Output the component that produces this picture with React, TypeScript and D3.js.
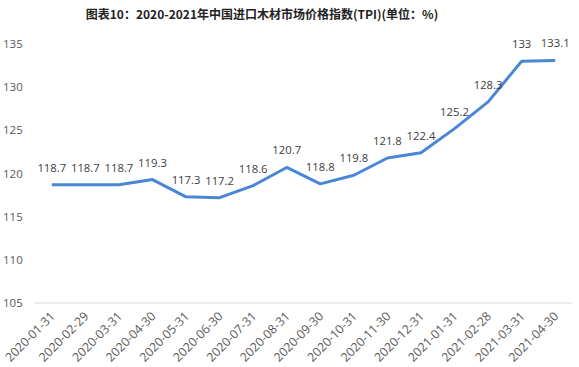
import React from "react";
import * as d3 from "d3";

const categories = ["2020-01-31","2020-02-29","2020-03-31","2020-04-30","2020-05-31","2020-06-30","2020-07-31","2020-08-31","2020-09-30","2020-10-31","2020-11-30","2020-12-31","2021-01-31","2021-02-28","2021-03-31","2021-04-30"];
const values = [118.7,118.7,118.7,119.3,117.3,117.2,118.6,120.7,118.8,119.8,121.8,122.4,125.2,128.3,133,133.1];
const yTicks = [105,110,115,120,125,130,135];
const title = "图表10：2020-2021年中国进口木材市场价格指数(TPI)(单位：%)";

export default function App() {
  const W = 579, H = 367;
  const x = d3.scalePoint<string>().domain(categories).range([51.8, 555.2]);
  const y = d3.scaleLinear().domain([105, 135]).range([303, 44]);
  const line = d3.line<number>().x((_, i) => x(categories[i])!).y(d => y(d));
  const font = "'Microsoft YaHei', 'Noto Sans CJK SC', 'Open Sans', sans-serif";
  return (
    <svg width={W} height={H} style={{ position: "absolute", left: 0, top: 0, background: "#fff" }} fontFamily={font}>
      <text x={262} y={19} textAnchor="middle" fontSize={12} fontWeight="bold" fill="#222">{title}</text>
      {yTicks.map(t => (
        <text key={t} x={3} y={y(t) + 4} fontSize={11.5} fontFamily="'Open Sans', sans-serif" fill="#595959">{t}</text>
      ))}
      <line x1={35} x2={572} y1={y(105)} y2={y(105)} stroke="#d9d9d9" strokeWidth={1} />
      <path d={line(values) || ""} fill="none" stroke="#4a86d6" strokeWidth={3} strokeLinejoin="round" />
      {values.map((v, i) => (
        <text key={i} x={x(categories[i])!} y={y(v) - 13} textAnchor="middle" fontSize={11.3} fontFamily="'Open Sans', sans-serif" fill="#404040">{v}</text>
      ))}
      {categories.map(c => (
        <text key={c} transform={`translate(${x(c)! + 4},${317}) rotate(-45)`} textAnchor="end" fontSize={12.3} fontFamily="'Open Sans', sans-serif" fill="#595959">{c}</text>
      ))}
    </svg>
  );
}
